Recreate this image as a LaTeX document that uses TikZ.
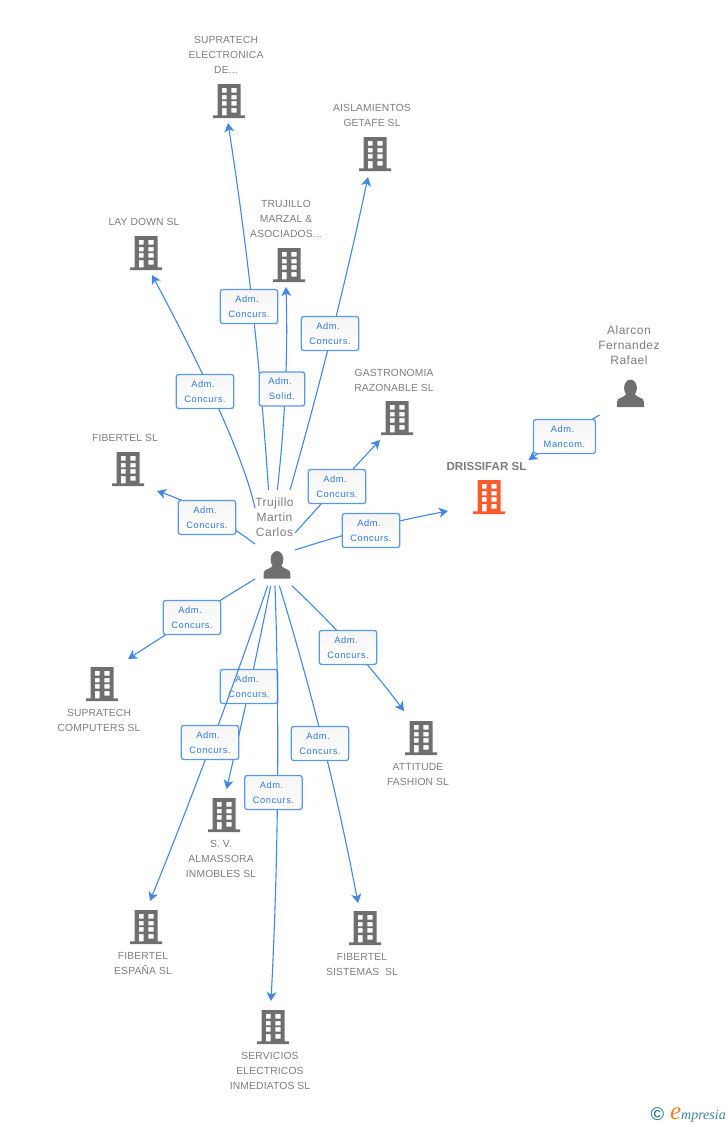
\documentclass[tikz,border=0pt]{standalone}
\usepackage{fontspec}
\setmainfont{Liberation Sans}
\newfontfamily\lblfont[LetterSpace=6]{Liberation Sans}
\newfontfamily\namefont[LetterSpace=1.5]{Liberation Sans}
\newfontfamily\persfont[LetterSpace=4]{Liberation Sans}
\newfontfamily\logofont{Liberation Serif}
\usetikzlibrary{arrows.meta,calc}
\definecolor{icongray}{HTML}{6F6F6F}
\definecolor{txtgray}{HTML}{7D7D7D}
\definecolor{linkblue}{HTML}{4187E6}
\definecolor{boxblue}{HTML}{5C98EA}
\definecolor{lblblue}{HTML}{2F78DF}
\definecolor{orangeicon}{HTML}{FF5A2D}
\definecolor{logoorange}{HTML}{F58220}
\definecolor{logoteal}{HTML}{3F7F96}
\tikzset{
  x=1pt,y=-1pt,
  conn/.style={draw=linkblue,line width=1.1pt,-{Stealth[length=9pt,width=10pt,inset=2.5pt]}},
  lbox/.style={draw=boxblue,line width=1.3pt,rounded corners=2.5pt,top color=black!4,bottom color=white,minimum width=57.5pt,minimum height=34pt,inner sep=0pt,align=center,text=lblblue,font=\lblfont\fontsize{9.3}{15}\selectfont},
  cname/.style={align=center,text=txtgray,inner sep=0pt,font=\namefont\fontsize{10.3}{15}\selectfont},
  pname/.style={align=center,text=txtgray,inner sep=0pt,font=\persfont\fontsize{12}{15}\selectfont},
  pics/bldg/.style={code={
    \fill[#1,even odd rule]
      (-16,14.3) rectangle (16,17)
      (-11.5,-17) rectangle (11.5,14.3)
      (-7.2,-13.2) rectangle (-2.3,-8.5) (2.3,-13.2) rectangle (7.5,-8.5)
      (-7.2,-6) rectangle (-2.3,-1.7) (2.3,-6) rectangle (7.5,-1.7)
      (-7.2,0) rectangle (-2.3,4.5) (2.3,0) rectangle (7.5,4.5)
      (-7.2,7) rectangle (-2.3,14.3) (2.3,7) rectangle (7.5,11.5);
  }},
  pics/pers/.style={code={
    \fill[icongray] (0,-5) ellipse (6.4 and 8.5);
    \fill[icongray] (-13.3,14) -- (-13.3,8.5) .. controls (-13.3,4.5) and (-7,5) .. (-4,1)
      -- (4,1) .. controls (7,5) and (13.3,4.5) .. (13.3,8.5) -- (13.3,14) -- cycle;
  }}
}
% name, start, quadratic control, end, box centre, text1, text2, box width
\newcommand{\link}[8]{%
  \coordinate (s#1) at (#2);
  \coordinate (c#1) at (#3);
  \coordinate (e#1) at (#4);
  \draw[conn] (s#1) .. controls ($(s#1)!0.6667!(c#1)$) and ($(e#1)!0.6667!(c#1)$) .. (e#1);
  \node[lbox,minimum width=#8pt] (b#1) at (#5) {#6\hspace*{4pt}\\#7};
}
\begin{document}
\begin{tikzpicture}
\useasboundingbox (0,0) rectangle (728,1125);

% companies
\pic at (229,101) {bldg=icongray};
\pic at (375,154) {bldg=icongray};
\pic at (289,265) {bldg=icongray};
\pic at (146,253) {bldg=icongray};
\pic at (397,418) {bldg=icongray};
\pic at (128,469) {bldg=icongray};
\pic at (489,497) {bldg=orangeicon};
\pic at (102,684) {bldg=icongray};
\pic at (421,738) {bldg=icongray};
\pic at (224,815) {bldg=icongray};
\pic at (146,927) {bldg=icongray};
\pic at (365,928) {bldg=icongray};
\pic at (273,1027) {bldg=icongray};
% people
\pic at (277,564.5) {pers};
\pic at (630.5,393) {pers};

\node[cname] (n1) at (226,55) {SUPRATECH\\ELECTRONICA\\DE...};
\node[cname] (n2) at (372,115.5) {AISLAMIENTOS\\GETAFE SL};
\node[cname] (n3) at (286,219) {TRUJILLO\\MARZAL \&\\ASOCIADOS...};
\node[cname] (n4) at (144,222) {LAY DOWN SL};
\node[cname] (n5) at (394,380.5) {GASTRONOMIA\\RAZONABLE SL};
\node[cname] (n6) at (125,438) {FIBERTEL SL};
\node[cname] (n7) at (99,720.5) {SUPRATECH\\COMPUTERS SL};
\node[cname] (n8) at (418,774.5) {ATTITUDE\\FASHION SL};
\node[cname] (n9) at (221,859) {S. V.\\ALMASSORA\\INMOBLES SL};
\node[cname] (n10) at (143,963.5) {FIBERTEL\\ESPAÑA SL};
\node[cname] (n11) at (362,964.5) {FIBERTEL\\SISTEMAS\ \ SL};
\node[cname] (n12) at (270,1071) {SERVICIOS\\ELECTRICOS\\INMEDIATOS SL};
\node[inner sep=0pt,text=txtgray,font=\bfseries\fontsize{11.6}{15}\selectfont] (n13) at (486.5,466) {DRISSIFAR SL};
\node[pname] (p1) at (274.5,517) {Trujillo\\Martin\\Carlos};
\node[pname] (p2) at (629,345.5) {Alarcon\\Fernandez\\Rafael};

% connectors and their labels
\link{a}{268.5,490}{256.5,305.5}{228,123}{249,306.5}{Adm.}{Concurs.}{57.5}
\link{b}{290,490}{335,332.5}{368,177}{330,333.5}{Adm.}{Concurs.}{57.5}
\link{d}{255,508}{240,440}{152,275}{205,391.5}{Adm.}{Concurs.}{57.5}
\link{c}{277.3,490}{289,387}{286,287}{282,389}{Adm.}{Solid.}{45.5}
\link{e}{255,544}{208,508.5}{157,491}{207,517.5}{Adm.}{Concurs.}{57.5}
\link{f}{295,533}{337,486}{380,440}{337,486.5}{Adm.}{Concurs.}{57.5}
\link{g}{295,550}{370.5,525.5}{448,511}{371,530.5}{Adm.}{Concurs.}{57.5}
\link{h}{255,579}{192,617.5}{128,659}{192,617.5}{Adm.}{Concurs.}{57.5}
\link{i}{291.7,585.7}{352.5,642}{404,711}{348,647.5}{Adm.}{Concurs.}{57.5}
\link{j}{270.7,585.7}{250.7,686}{226.5,789}{249,686.5}{Adm.}{Concurs.}{57.5}
\link{k}{267.7,585.7}{215,740.6}{150,901}{210,742.5}{Adm.}{Concurs.}{57.5}
\link{m}{279.3,585.7}{327.4,742}{358,903}{320,743.5}{Adm.}{Concurs.}{57.5}
\link{l}{275,585.7}{282,787}{271,1001}{273.5,792.5}{Adm.}{Concurs.}{57.5}
\link{n}{599.5,415}{564,436}{528.5,460}{564.5,436.5}{Adm.}{Mancom.}{62}

% logo
\node[inner sep=0pt,text=logoteal,font=\bfseries\fontsize{18.5}{18.5}\selectfont] (c1) at (657.5,1114) {©};
\node[inner sep=0pt,anchor=base west,text=logoorange,font=\logofont\itshape\fontsize{25}{25}\selectfont] (c2) at (670,1119.5) {e};
\node[inner sep=0pt,anchor=base west,text=logoteal,font=\logofont\itshape\fontsize{14}{14}\selectfont] (c3) at (681,1119) {mpresia};
\end{tikzpicture}
\end{document}
